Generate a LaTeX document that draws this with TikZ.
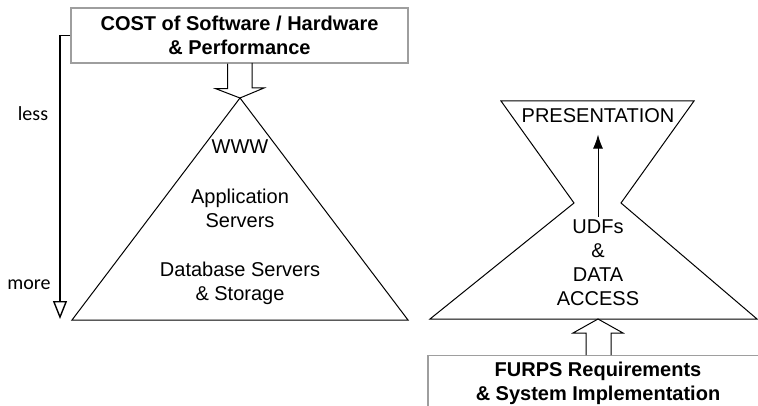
\documentclass[tikz,border=0pt]{standalone}
\usepackage{fontspec}
\setmainfont{Liberation Sans}
\newfontfamily\sidefont{Carlito}
\usetikzlibrary{arrows.meta, positioning, calc}
\definecolor{boxgray}{rgb}{0.62, 0.62, 0.62}

\begin{document}
\begin{tikzpicture}[x=1pt, y=-1pt, line width=1pt,
	every node/.style={font=\fontsize{20}{24}\selectfont, align=center, inner sep=2pt},
	costbox/.style={draw=boxgray, line width=1.2pt, font=\fontsize{20}{24}\selectfont\bfseries},
	sidelabel/.style={font=\sidefont\fontsize{20}{24}\selectfont}]
	\useasboundingbox (0,0) rectangle (758,406);
	\clip (0,0) rectangle (758,406);
	\pgfmathsetmacro{\shaft}{12}

	\node[costbox, minimum width=337pt, minimum height=55pt] (cost) at (239.5,35.5) {COST of Software / Hardware\\\& Performance};
	\coordinate (apex) at (240,98);
	\draw (apex) -- (408,320) -- (72,320) -- cycle;
	\draw ($(cost.south)+(-\shaft,0)$) -- ++(0,25) -- ++(-12,0) -- (apex) -- ++(24,-10) -- ++(-12,0) -- ++(0,-25);

	\node (www) at (240,147) {WWW};
	\node (app) at (240,208.5) {Application\\Servers};
	\node (db) at (240,283.5) {Database Servers\\\& Storage};

	\coordinate (more end) at (60,319);
	\draw[line width=1.4pt, -{Triangle[open, length=18pt, width=14pt]}] (cost.west) -| (more end);
	\node[sidelabel] (less) at (33,114) {less};
	\node[sidelabel] (more) at (29,285) {more};

	\coordinate (neck) at (598,319);
	\draw (501,101) -- (694,101) -- (621,203) -- (757,319) -- (430,319) -- (574,203) -- cycle;
	\node (pres) at (598,116) {PRESENTATION};
	\node (udf) at (598,263) {UDFs\\\&\\DATA\\ACCESS};
	\draw[-{Latex[length=14pt, width=10pt]}, shorten <=1pt, shorten >=9pt] (udf.north) -- (pres.south);

	\node[costbox, anchor=north, minimum width=340pt, minimum height=56pt] (furps) at (598,355) {FURPS Requirements\\\& System Implementation};
	\draw ($(furps.north)+(-\shaft,0)$) -- ++(0,-22) -- ++(-13,0) -- (neck) -- ++(25,14) -- ++(-12,0) -- ++(0,22);
\end{tikzpicture}
\end{document}
